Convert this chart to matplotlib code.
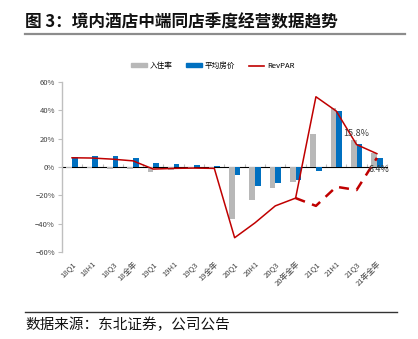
import numpy as np
import matplotlib
matplotlib.use('Agg')
import matplotlib.pyplot as plt
from matplotlib.lines import Line2D
from matplotlib.patches import Patch

plt.rcParams['font.family'] = ['Noto Sans CJK SC', 'DejaVu Sans']
plt.rcParams['axes.unicode_minus'] = True

# 季度数据（%）
quarters = ['18Q1', '18H1', '18Q3', '18全年', '19Q1', '19H1', '19Q3', '19全年',
            '20Q1', '20H1', '20Q3', '20年全年', '21Q1', '21H1', '21Q3', '21年全年']
occupancy = [-0.5, -0.8, -1.5, -1.5, -3.5, -2.2, -0.5, -0.4,
             -36.5, -23.5, -14.6, -10.3, 23.0, 41.8, 18.8, 10.0]
adr = [7.3, 8.0, 7.7, 6.5, 3.0, 2.2, 1.5, 1.0,
       -6.0, -13.5, -11.0, -9.4, -2.8, 39.5, 16.0, 6.1]
revpar = [6.5, 6.3, 5.5, 4.3, -1.5, -1.0, -0.8, -1.0,
          -50.0, -39.5, -27.5, -22.0, 49.6, 39.5, 15.8, 9.4]
# 相比2019年同期（虚线）
revpar_vs19_labels = ['20年全年', '21Q1', '21H1', '21Q3', '21年全年']
revpar_vs19 = [-22.0, -27.5, -14.0, -16.3, 6.4]

GRAY = '#B8B8B8'
BLUE = '#0070C0'
RED = '#C00000'
AXIS = '#BFBFBF'

fig = plt.figure(figsize=(4.18, 3.39), dpi=100)
ax = fig.add_axes([0.148, 0.257, 0.778, 0.501])

x = np.arange(len(quarters))
w = 0.28
ax.bar(x - w / 2, occupancy, w, color=GRAY, zorder=2)
ax.bar(x + w / 2, adr, w, color=BLUE, zorder=2)
ax.plot(x, revpar, color=RED, lw=1.1, zorder=3)

xd = [quarters.index(q) for q in revpar_vs19_labels]
ax.plot(xd, revpar_vs19, color=RED, lw=1.8, ls=(0, (4, 3)), zorder=3)

# 数据标签
ax.text(quarters.index('21Q3'), revpar[14] + 7.5, f'{revpar[14]:.1f}%',
        ha='center', va='center', fontsize=6.5, color='#404040', zorder=4)
ax.text(quarters.index('21年全年') + 0.1, revpar_vs19[-1] - 8.5, f'{revpar_vs19[-1]:.1f}%',
        ha='center', va='center', fontsize=6.5, color='#404040', zorder=4)

ax.set_xlim(-0.5, len(quarters) - 0.5)
ax.set_ylim(-60, 60)
ax.set_yticks(np.arange(-60, 61, 20))
ax.set_yticklabels([f'{v}%'.replace('-', '\u2212') for v in range(-60, 61, 20)])
ax.tick_params(axis='y', direction='out', length=3, color=AXIS,
               labelsize=5.5, labelcolor='#404040', pad=2)

ax.set_xticks(x)
ax.set_xticklabels(quarters, rotation=45, ha='right', va='top',
                   rotation_mode='anchor', fontsize=5.5, color='#404040')
ax.tick_params(axis='x', length=0, pad=6)

for s in ['top', 'right', 'bottom']:
    ax.spines[s].set_visible(False)
ax.spines['left'].set_color(AXIS)
ax.spines['left'].set_linewidth(1.0)

# 零线及分隔刻度
zero = ax.secondary_xaxis(0.5)
zero.set_xticks(np.arange(-0.5, len(quarters), 1.0))
zero.set_xticklabels([])
zero.tick_params(direction='out', length=2.5, color=AXIS)
zero.spines['bottom'].set_color(AXIS)
zero.spines['bottom'].set_linewidth(1.0)

handles = [Patch(color=GRAY), Patch(color=BLUE), Line2D([], [], color=RED, lw=1.2)]
fig.legend(handles, ['入住率', '平均房价', 'RevPAR'], loc='center', ncol=3,
           bbox_to_anchor=(0.51, 0.805), frameon=False, fontsize=5.5,
           handlelength=2.0, handleheight=0.45, handletextpad=0.4, columnspacing=1.8)

# 标题与来源
fig.text(0.06, 0.935, '图 3：境内酒店中端同店季度经营数据趋势', fontsize=12,
         fontweight='bold', ha='left', va='center', color='#111111')
fig.add_artist(Line2D([0.06, 0.969], [0.899, 0.899], color='#8C8C8C', lw=1.6))
fig.add_artist(Line2D([0.06, 0.95], [0.079, 0.079], color='#333333', lw=1.0))
fig.text(0.06, 0.041, '数据来源：东北证券，公司公告', fontsize=10.5,
         ha='left', va='center', color='#111111')

fig.savefig('out.png', dpi=100)
